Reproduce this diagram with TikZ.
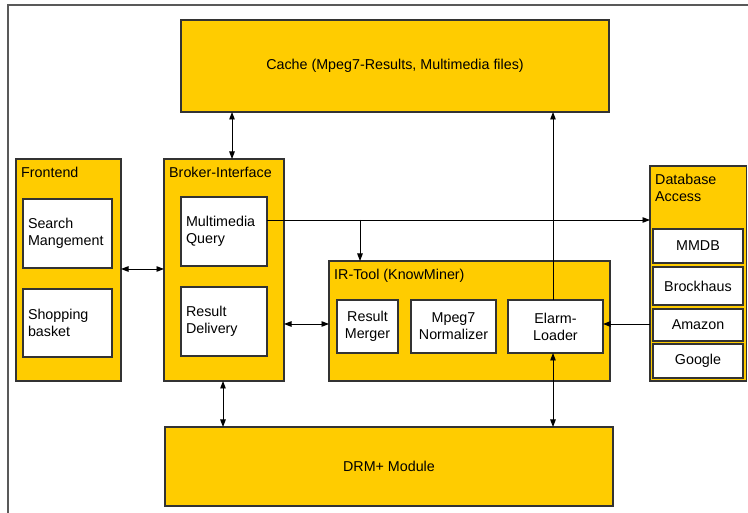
\documentclass[tikz,border=0pt]{standalone}
\usepackage{fontspec}
\setmainfont{Liberation Sans}
\usetikzlibrary{arrows.meta,calc}

\definecolor{gold}{HTML}{FFCC00}
\definecolor{edge}{HTML}{333333}

\tikzset{
  container/.style={draw=edge, line width=1.1pt, fill=gold, anchor=north west,
    outer sep=0pt, inner sep=0pt},
  whitebox/.style={draw=edge, line width=1.1pt, fill=white, anchor=north west,
    outer sep=0pt, inner sep=0pt},
  title/.style={anchor=base west, inner sep=0pt, font=\lbl},
  lefttext/.style={whitebox, align=left, inner xsep=5pt, font=\lbl},
  midtext/.style={whitebox, align=center, font=\lbl},
  conn/.style={draw=black, line width=0.9pt},
  arr/.style={conn, -{Triangle[length=7.5pt,width=5.5pt]}},
  biarr/.style={conn, {Triangle[length=7.5pt,width=5.5pt]}-{Triangle[length=7.5pt,width=5.5pt]}},
}
\newcommand{\lbl}{\fontsize{14.3pt}{17pt}\selectfont}

\begin{document}
\begin{tikzpicture}[x=1pt,y=-1pt]
\useasboundingbox (0,0) rectangle (748,513);

% partial outer frame
\draw[draw=black!65, line width=1.6pt] (749,5) -- (8,5) -- (8,514);

% cache
\node[container, minimum width=428pt, minimum height=92pt, font=\lbl] (cache) at (181,20)
  {Cache (Mpeg7-Results, Multimedia files)};

% frontend
\node[container, minimum width=105pt, minimum height=222pt] (fe) at (16,159) {};
\node[title] (fet) at ($(fe.north west)+(5,19)$) {Frontend};
\node[lefttext, text width=79pt, minimum height=69pt] (sm) at (23,199) {Search\\Mangement};
\node[lefttext, text width=79pt, minimum height=68pt] (sb) at (23,289) {Shopping\\basket};

% broker interface
\node[container, minimum width=120pt, minimum height=222pt] (br) at (164,159) {};
\node[title] (brt) at ($(br.north west)+(5,19)$) {Broker-Interface};
\node[lefttext, text width=76pt, minimum height=69pt] (mq) at (181,197) {Multimedia\\Query};
\node[lefttext, text width=76pt, minimum height=69pt] (rd) at (181,287) {Result\\Delivery};

% IR tool
\node[container, minimum width=281pt, minimum height=120pt] (ir) at (329,261) {};
\node[title] (irt) at ($(ir.north west)+(5,18.5)$) {IR-Tool (KnowMiner)};
\node[midtext, minimum width=61pt, minimum height=53pt] (rm) at (337,300) {Result\\Merger};
\node[midtext, minimum width=85pt, minimum height=53pt] (mn) at (411,300) {Mpeg7\\Normalizer};
\node[midtext, minimum width=95pt, minimum height=53pt] (el) at (508,300) {Elarm-\\Loader};

% database access
\node[container, minimum width=96.5pt, minimum height=215pt] (db) at (650,166) {};
\node[title, align=left, anchor=north west] (dbt) at ($(db.north west)+(5,7.5)$) {Database\\Access};
\node[midtext, minimum width=90pt, minimum height=34pt] (mmdb) at (653,229) {MMDB};
\node[midtext, minimum width=90pt, minimum height=38pt] (brock) at (653,267) {Brockhaus};
\node[midtext, minimum width=90pt, minimum height=32pt] (amz) at (653,309) {Amazon};
\node[midtext, minimum width=90pt, minimum height=34pt] (goog) at (653,344) {Google};

% DRM module
\node[container, minimum width=448pt, minimum height=79pt, font=\lbl] (drm) at (165,427) {DRM+ Module};

% connector positions
\coordinate (cbx) at (232,0);
\coordinate (bdx) at (223,0);
\coordinate (elx) at (553,0);
\coordinate (qy) at (0,220);
\coordinate (qb) at (360,220);
\coordinate (fy) at (0,269);
\coordinate (ry) at (0,324);

% connectors
\draw[biarr] (cache.south -| cbx) -- (br.north -| cbx);
\draw[biarr] (fe.east |- fy) -- (br.west |- fy);
\draw[arr] (mq.east |- qy) -- (db.west |- qy);
\draw[arr] (qb) -- (qb |- ir.north);
\draw[biarr] (br.east |- ry) -- (ir.west |- ry);
\draw[arr] (db.west |- ry) -- (el.east |- ry);
\draw[arr] (el.north -| elx) -- (cache.south -| elx);
\draw[biarr] (br.south -| bdx) -- (drm.north -| bdx);
\draw[biarr] (el.south -| elx) -- (drm.north -| elx);
\end{tikzpicture}
\end{document}
